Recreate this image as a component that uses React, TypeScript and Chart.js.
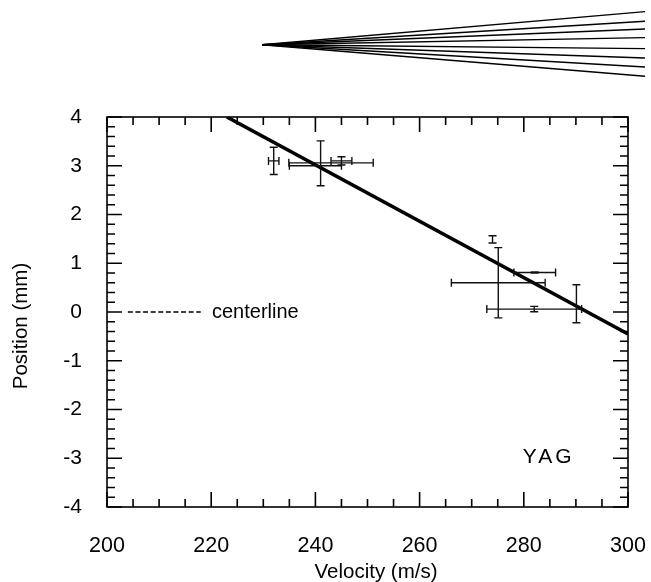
import React, { useEffect, useRef } from "react";
import { Chart, registerables } from "chart.js";

Chart.register(...registerables);

const xTicks = [200, 220, 240, 260, 280, 300];
const yTicks = [-4, -3, -2, -1, 0, 1, 2, 3, 4];
const xMinorStep = 5;
const yMinorStep = 0.2;

const fitLine = [
  { x: 223, y: 4 },
  { x: 300, y: -0.45 },
];
const centerline = [
  { x: 204, y: 0 },
  { x: 218, y: 0 },
];

const barX = [232, 241, 243, 240, 245, 275.1, 282.1, 282, 290.1, 274];
const barY = [3.1, 3.05, 3.06, 3.0, 3.1, 0.6, 0.81, 0.06, 0.17, 1.49];
const barXErr = [1, 0, 8.1, 5, 2, 9, 4, 9.1, 0, 0];
const barYErr = [0.28, 0.46, 0, 0, 0.085, 0.72, 0.01, 0.055, 0.39, 0.075];

const fanEnds = [33.4, 23.7, 16, 7.4, -3.6, -13, -22, -31.3];
const fanXs = [0, 100];

const FONT = '"Liberation Sans", Arial, sans-serif';

const frame = {
  id: "frame",
  afterDatasetsDraw(chart: any) {
    const { ctx, chartArea: a, scales } = chart;
    const x = scales.x;
    const y = scales.y;
    ctx.save();
    ctx.strokeStyle = "#000";
    ctx.lineWidth = 1.6;
    ctx.strokeRect(a.left, a.top, a.right - a.left, a.bottom - a.top);
    ctx.beginPath();
    const stepsX = Math.round((x.max - x.min) / xMinorStep);
    for (let i = 0; i <= stepsX; i++) {
      const v = x.min + i * xMinorStep;
      const len = xTicks.includes(v) ? 15 : 8;
      const p = x.getPixelForValue(v);
      ctx.moveTo(p, a.bottom);
      ctx.lineTo(p, a.bottom - len);
      ctx.moveTo(p, a.top);
      ctx.lineTo(p, a.top + len);
    }
    const stepsY = Math.round((y.max - y.min) / yMinorStep);
    for (let i = 0; i <= stepsY; i++) {
      const v = Math.round((y.min + i * yMinorStep) * 10) / 10;
      const len = yTicks.includes(v) ? 15 : 8;
      const p = y.getPixelForValue(v);
      ctx.moveTo(a.left, p);
      ctx.lineTo(a.left + len, p);
      ctx.moveTo(a.right, p);
      ctx.lineTo(a.right - len, p);
    }
    ctx.stroke();

    ctx.lineWidth = 1.4;
    ctx.strokeStyle = "#111";
    const cap = 4;
    ctx.beginPath();
    barX.forEach((bx, i) => {
      const px = x.getPixelForValue(bx);
      const py = y.getPixelForValue(barY[i]);
      if (barXErr[i] > 0) {
        const l = x.getPixelForValue(bx - barXErr[i]);
        const r = x.getPixelForValue(bx + barXErr[i]);
        ctx.moveTo(l, py);
        ctx.lineTo(r, py);
        ctx.moveTo(l, py - cap);
        ctx.lineTo(l, py + cap);
        ctx.moveTo(r, py - cap);
        ctx.lineTo(r, py + cap);
      }
      if (barYErr[i] > 0) {
        const t = y.getPixelForValue(barY[i] + barYErr[i]);
        const b = y.getPixelForValue(barY[i] - barYErr[i]);
        ctx.moveTo(px, t);
        ctx.lineTo(px, b);
        ctx.moveTo(px - cap, t);
        ctx.lineTo(px + cap, t);
        ctx.moveTo(px - cap, b);
        ctx.lineTo(px + cap, b);
      }
    });
    ctx.stroke();

    ctx.fillStyle = "#000";
    ctx.textBaseline = "middle";
    ctx.textAlign = "left";
    ctx.font = `20px ${FONT}`;
    ctx.fillText("centerline", 212, y.getPixelForValue(0));
    ctx.save();
    ctx.font = `21px ${FONT}`;
    (ctx as any).letterSpacing = "3px";
    ctx.fillText("YAG", x.getPixelForValue(279.8), y.getPixelForValue(-2.97));
    ctx.restore();

    ctx.textAlign = "center";
    ctx.font = `20.5px ${FONT}`;
    ctx.fillText("Velocity (m/s)", 376, 572);
    ctx.translate(21, 326);
    ctx.rotate(-Math.PI / 2);
    ctx.fillText("Position (mm)", 0, 0);
    ctx.restore();
  },
};

export default function App() {
  const mainRef = useRef<HTMLCanvasElement>(null);
  const fanRef = useRef<HTMLCanvasElement>(null);

  useEffect(() => {
    const main = new Chart(mainRef.current as HTMLCanvasElement, {
      type: "scatter",
      plugins: [frame],
      data: {
        datasets: [
          {
            label: "fit",
            data: fitLine,
            showLine: true,
            borderColor: "#000",
            borderWidth: 3.6,
            pointRadius: 0,
          },
          {
            label: "centerline",
            data: centerline,
            showLine: true,
            borderColor: "#000",
            borderWidth: 1.5,
            borderDash: [5, 2.6],
            pointRadius: 0,
          },
        ],
      },
      options: {
        animation: false,
        responsive: false,
        layout: { padding: { top: 117, right: 23, left: 0, bottom: 0 } },
        plugins: { legend: { display: false }, tooltip: { enabled: false } },
        scales: {
          x: {
            type: "linear",
            min: 200,
            max: 300,
            afterFit: (s: any) => {
              s.height = 75;
              s.paddingRight = 0;
              s.paddingLeft = 0;
            },
            afterBuildTicks: (s: any) => {
              s.ticks = xTicks.map((value) => ({ value }));
            },
            grid: { display: false },
            border: { display: false },
            ticks: {
              color: "#000",
              maxRotation: 0,
              autoSkip: false,
              padding: 18,
              font: { family: FONT, size: 21.5 },
            },
          },
          y: {
            type: "linear",
            min: -4,
            max: 4,
            afterFit: (s: any) => {
              s.width = 107;
            },
            afterBuildTicks: (s: any) => {
              s.ticks = yTicks.map((value) => ({ value }));
            },
            grid: { display: false },
            border: { display: false },
            ticks: {
              color: "#000",
              autoSkip: false,
              padding: 17,
              font: { family: FONT, size: 21 },
            },
          },
        },
      },
    } as any);

    const fan = new Chart(fanRef.current as HTMLCanvasElement, {
      type: "scatter",
      data: {
        datasets: fanEnds.map((end, i) => ({
          label: `ray ${i}`,
          data: [
            { x: fanXs[0], y: 0.3 },
            { x: fanXs[1], y: end },
          ],
          showLine: true,
          borderColor: "#000",
          borderWidth: 1.4,
          pointRadius: 0,
        })),
      },
      options: {
        animation: false,
        responsive: false,
        plugins: { legend: { display: false }, tooltip: { enabled: false } },
        scales: {
          x: { type: "linear", min: 0, max: 100, display: false },
          y: { type: "linear", min: -45, max: 45, display: false },
        },
      },
    } as any);

    return () => {
      main.destroy();
      fan.destroy();
    };
  }, []);

  return (
    <div style={{ position: "absolute", left: 0, top: 0, width: 651, height: 582, background: "#fff", overflow: "hidden" }}>
      <canvas ref={mainRef} width={651} height={582} style={{ position: "absolute", left: 0, top: 0, display: "block" }} />
      <canvas ref={fanRef} width={383} height={90} style={{ position: "absolute", left: 262, top: 0, display: "block" }} />
    </div>
  );
}
